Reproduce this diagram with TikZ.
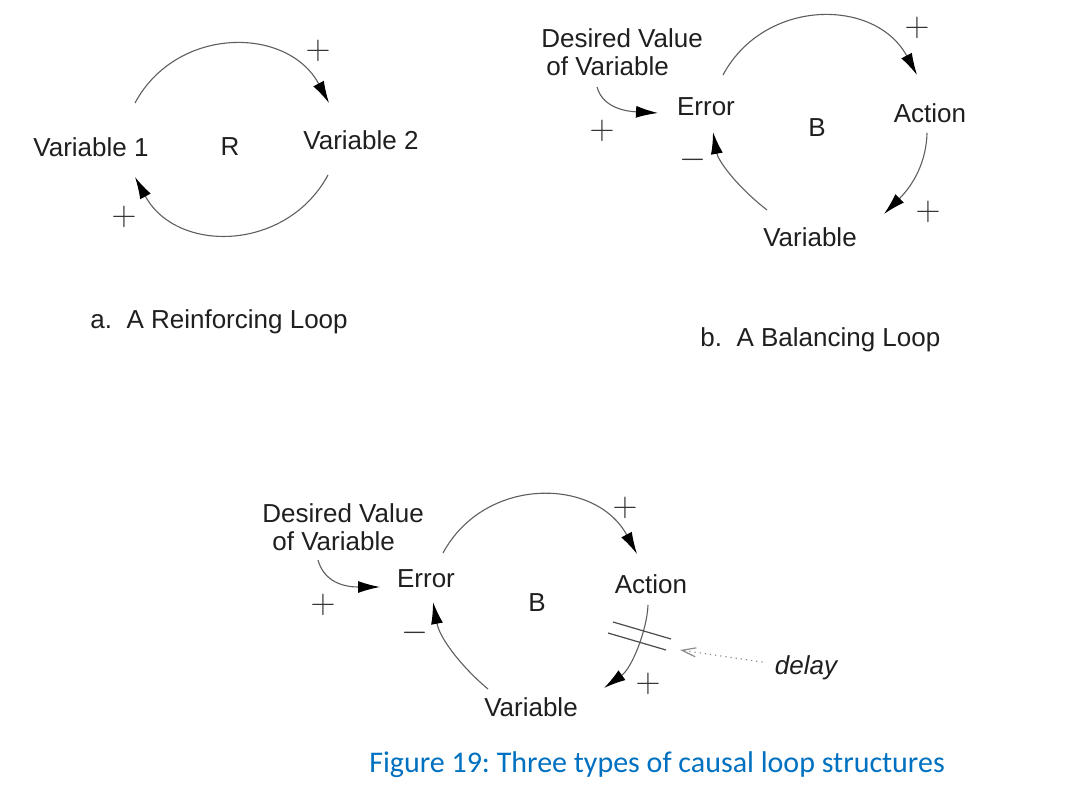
\documentclass[tikz,border=0pt]{standalone}
\usepackage{fontspec}
\setmainfont{Liberation Sans}
\newfontfamily\capfont{Carlito}
\usetikzlibrary{arrows.meta}
\definecolor{linkgray}{RGB}{95,95,95}
\definecolor{capblue}{RGB}{0,112,192}
\frenchspacing
\begin{document}
\begin{tikzpicture}[x=0.5pt,y=-0.5pt,
  lbl/.style={font=\fontsize{13}{14}\selectfont, inner sep=0pt, text=black!88},
  sgn/.style={font=\fontsize{17}{17}\selectfont, inner sep=0pt, text=black!80},
  lnk/.style={draw=linkgray, line width=0.55pt, -{Latex[length=11pt,width=6pt,color=black]}},
  delaymark/.style={draw=black!70, line width=0.6pt},
  delayptr/.style={draw=black!45, line width=0.6pt, dotted, -{Straight Barb[length=7pt,width=4.5pt,line width=0.6pt]}},
  caption/.style={font=\capfont\fontsize{15}{18}\selectfont, text=capblue, inner sep=0pt}]
\useasboundingbox[fill=white] (0,0) rectangle (1080,790);

% ---------- a. reinforcing loop ----------
\node[lbl] (v1) at (91,147) {Variable 1};
\node[lbl] (ra) at (230,147) {R};
\node[lbl] (v2) at (361,140) {Variable 2};
\node[sgn] (pa1) at (318,51) {$+$};
\node[sgn] (pa2) at (124,217) {$+$};
\node[lbl,anchor=west] (capa) at (90,322) {a.\ \ A Reinforcing Loop};
\coordinate (a1s) at (135,103); \coordinate (a1e) at (329,103);
\coordinate (a2s) at (328,175); \coordinate (a2e) at (135,177);
\draw[lnk] (a1s) .. controls (176.5,25.7) and (287.5,25.7) .. (a1e);
\draw[lnk] (a2s) .. controls (286.5,252) and (176.5,254) .. (a2e);

% ---------- b. balancing loop ----------
\node[lbl,align=left,anchor=north west] (dvb) at (541,28) {Desired Value\\\hspace{2.5pt}of Variable};
\node[lbl] (erb) at (706,107) {Error};
\node[lbl] (bb) at (817,128) {B};
\node[lbl] (acb) at (930,113) {Action};
\node[lbl] (vb) at (810,237) {Variable};
\node[sgn] (pb1) at (917,28) {$+$};
\node[sgn] (pb2) at (602,131) {$+$};
\node[sgn] (pb3) at (928,212) {$+$};
\node[sgn] (mb) at (693,160) {$-$};
\node[lbl,anchor=west] (capb) at (700,340) {b.\ \ A Balancing Loop};
\coordinate (b1s) at (723,75);  \coordinate (b1e) at (917,75);
\coordinate (b2s) at (927,133); \coordinate (b2e) at (884,214);
\coordinate (b3s) at (767,210); \coordinate (b3e) at (713,132);
\coordinate (b4s) at (597,87);  \coordinate (b4e) at (658,113);
\draw[lnk] (b1s) .. controls (764.5,-2.3) and (875.5,-2.3) .. (b1e);
\draw[lnk] (b2s) .. controls (926,170) and (906,192) .. (b2e);
\draw[lnk] (b3s) .. controls (735,185) and (718,160) .. (b3e);
\draw[lnk] (b4s) .. controls (602,105) and (620,111) .. (b4e);

% ---------- c. balancing loop with delay ----------
\node[lbl,align=left,anchor=north west] (dvc) at (262,503) {Desired Value\\\hspace{5pt}of Variable};
\node[lbl] (erc) at (426,579) {Error};
\node[lbl] (bc) at (537,603) {B};
\node[lbl] (acc) at (651,584) {Action};
\node[lbl] (vc) at (531,707) {Variable};
\node[lbl,font=\fontsize{13}{14}\selectfont\itshape] (dl) at (806,668) {delay};
\node[sgn] (pc1) at (625,508) {$+$};
\node[sgn] (pc2) at (323,605) {$+$};
\node[sgn] (pc3) at (648,684) {$+$};
\node[sgn] (mc) at (415,633) {$-$};
\coordinate (c1s) at (443,553); \coordinate (c1e) at (637,554);
\coordinate (c2s) at (648,605); \coordinate (c2e) at (604,688);
\coordinate (c3s) at (488,689); \coordinate (c3e) at (433,602);
\coordinate (c4s) at (318,560); \coordinate (c4e) at (380,587);
\draw[lnk] (c1s) .. controls (484.5,476) and (595.5,477) .. (c1e);
\draw[lnk] (c2s) .. controls (647,630) and (632,668) .. (c2e);
\draw[lnk] (c3s) .. controls (465,670) and (440,640) .. (c3e);
\draw[lnk] (c4s) .. controls (323,578) and (338,587) .. (c4e);
\coordinate (d1a) at (613,622); \coordinate (d1b) at (671,639);
\coordinate (d2a) at (608,633); \coordinate (d2b) at (666,650);
\draw[delaymark] (d1a) -- (d1b);
\draw[delaymark] (d2a) -- (d2b);
\coordinate (dtip) at (680,650);
\draw[delayptr] (dl.west) ++(-12,-6) -- (dtip);

% ---------- caption ----------
\node[caption] (cap) at (657,765) {Figure 19: Three types of causal loop structures};
\end{tikzpicture}
\end{document}
